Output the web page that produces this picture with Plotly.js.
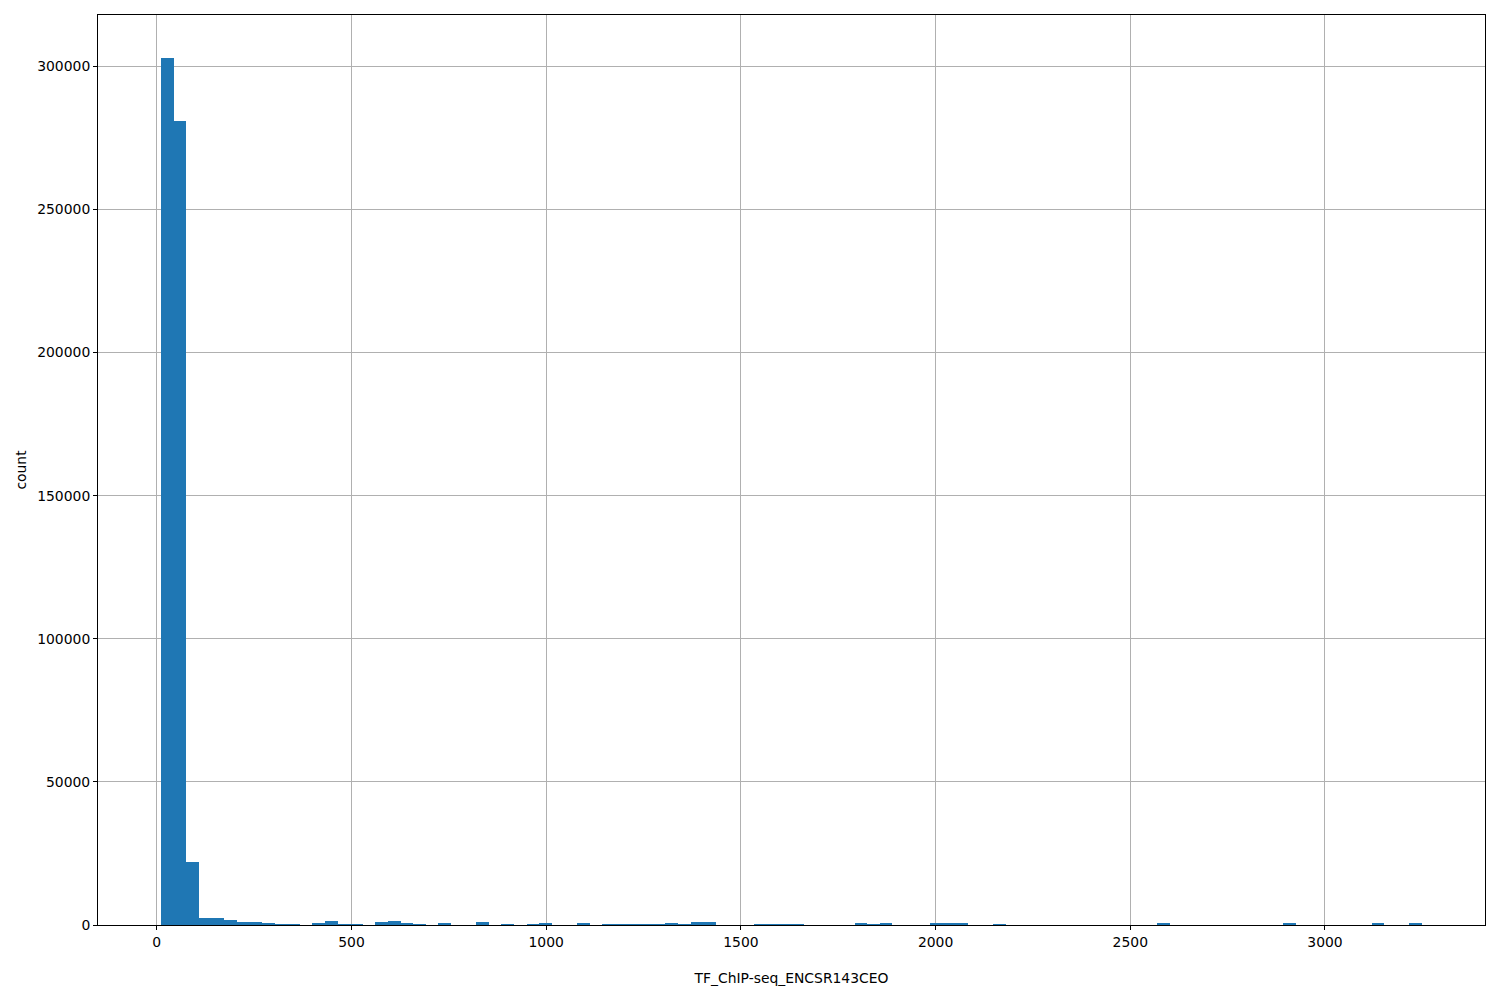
<!DOCTYPE html>
<html>
<head>
<meta charset="utf-8">
<script src="https://cdn.plot.ly/plotly-3.0.1.min.js"></script>
<style>html,body{margin:0;padding:0;background:#fff;}#chart{width:1500px;height:1000px;}</style>
</head>
<body>
<div id="chart"></div>
<script>
// Histogram: 100 equal-width bins
const binStart = 11;
const binEnd = 3249;
const binCount = 100;
const counts = [
  302800, 280900, 22000, 2450, 2450, 1750, 1050, 1050, 700, 450,
  450, 0, 700, 1400, 450, 450, 0, 1050, 1400, 800,
  450, 0, 700, 0, 0, 1050, 0, 350, 0, 350,
  700, 0, 0, 700, 0, 350, 350, 350, 350, 350,
  700, 350, 1050, 1050, 0, 0, 0, 350, 350, 350,
  350, 0, 0, 0, 0, 700, 350, 700, 0, 0,
  0, 700, 700, 700, 0, 0, 350, 0, 0, 0,
  0, 0, 0, 0, 0, 0, 0, 0, 0, 700,
  0, 0, 0, 0, 0, 0, 0, 0, 0, 700,
  0, 0, 0, 0, 0, 0, 700, 0, 0, 700
];
const xTickVals = [0, 500, 1000, 1500, 2000, 2500, 3000];
const yTickVals = [0, 50000, 100000, 150000, 200000, 250000, 300000];
const xLabel = "TF_ChIP-seq_ENCSR143CEO";
const yLabel = "count";

const binWidth = (binEnd - binStart) / binCount;
const centers = counts.map((_, i) => binStart + binWidth * (i + 0.5));
const maxCount = Math.max(...counts);
const span = binEnd - binStart;

const font = {family: "DejaVu Sans, sans-serif", size: 13.9, color: "#000"};

Plotly.newPlot("chart", [{
  type: "bar",
  x: centers,
  y: counts,
  width: binWidth,
  marker: {color: "#1f77b4", line: {width: 0}},
  hoverinfo: "x+y"
}], {
  width: 1500, height: 1000,
  margin: {l: 98, r: 15, t: 15, b: 75, pad: 0},
  paper_bgcolor: "#fff", plot_bgcolor: "#fff",
  font: font,
  showlegend: false,
  bargap: 0,
  xaxis: {
    range: [binStart - 0.05 * span, binEnd + 0.05 * span],
    tickvals: xTickVals, ticktext: xTickVals.map(String),
    ticks: "outside", ticklen: 4, tickwidth: 1, tickcolor: "#000",
    showgrid: true, gridcolor: "#b0b0b0", gridwidth: 1,
    zeroline: false,
    showline: true, linecolor: "#000", linewidth: 1, mirror: true,
    tickfont: font,
    title: {text: xLabel, font: font, standoff: 24}
  },
  yaxis: {
    range: [0, maxCount * 1.05],
    tickvals: yTickVals, ticktext: yTickVals.map(String),
    ticks: "outside", ticklen: 4, tickwidth: 1, tickcolor: "#000",
    showgrid: true, gridcolor: "#b0b0b0", gridwidth: 1,
    zeroline: false,
    showline: true, linecolor: "#000", linewidth: 1, mirror: true,
    tickfont: font,
    title: {text: yLabel, font: font, standoff: 7}
  }
}, {displayModeBar: false, staticPlot: true});
</script>
</body>
</html>
